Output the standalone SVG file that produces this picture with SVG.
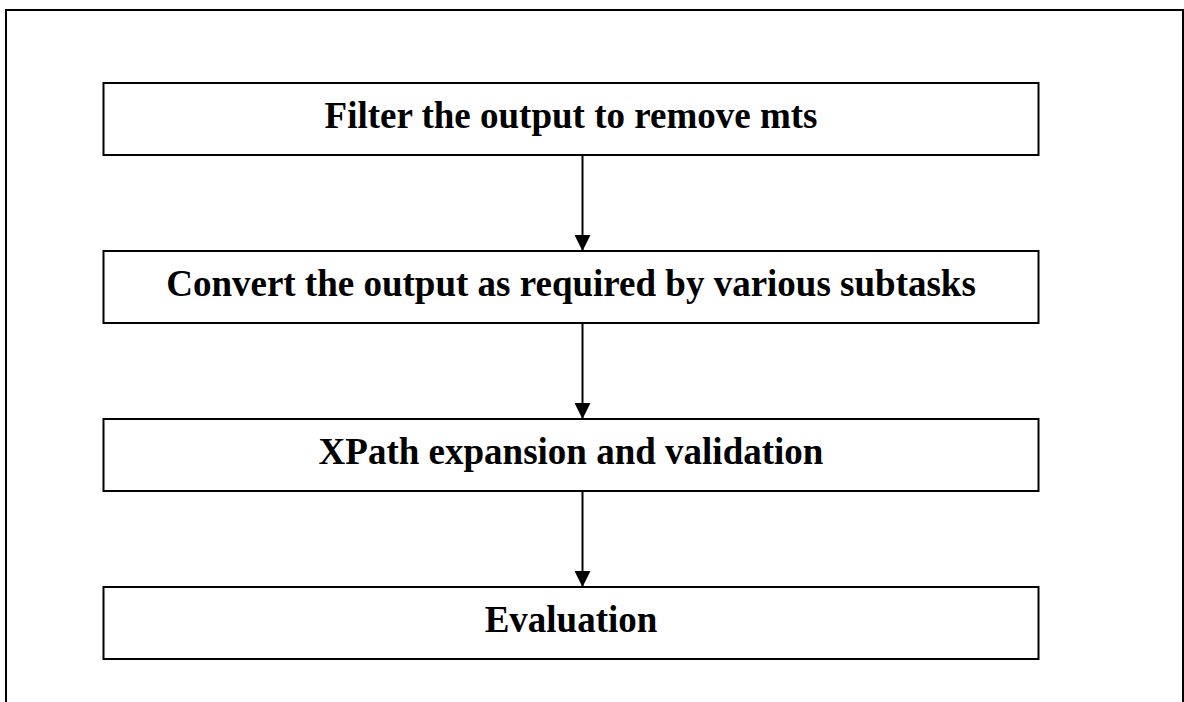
<svg xmlns="http://www.w3.org/2000/svg" width="1184" height="702" viewBox="0 0 1184 702">
  <style>
    .frame { fill: #ffffff; stroke: #000000; stroke-width: 2; }
    .box { fill: #ffffff; stroke: #000000; stroke-width: 2; }
    .label { font-family: "Liberation Serif", "Times New Roman", serif; font-weight: bold; font-size: 37px; fill: #000000; text-anchor: middle; }
    .flow { stroke: #000000; stroke-width: 2; fill: none; }
  </style>
  <defs>
    <marker id="arrowhead" markerUnits="userSpaceOnUse" markerWidth="16" markerHeight="16" refX="16" refY="8" orient="auto">
      <path d="M0,0 L16,8 L0,16 Z" fill="#000000"/>
    </marker>
  </defs>
  <rect width="1184" height="702" fill="#ffffff"/>
  <rect class="frame" x="6" y="10" width="1177" height="700"/>

  <g id="connectors">
    <line class="flow" x1="582.5" y1="155" x2="582.5" y2="251" marker-end="url(#arrowhead)"/>
    <line class="flow" x1="582.5" y1="323" x2="582.5" y2="419" marker-end="url(#arrowhead)"/>
    <line class="flow" x1="582.5" y1="491" x2="582.5" y2="587" marker-end="url(#arrowhead)"/>
  </g>

  <g id="node-filter">
    <rect class="box" x="103.5" y="83" width="935" height="72"/>
    <text class="label" x="571" y="127.5">Filter the output to remove mts</text>
  </g>
  <g id="node-convert">
    <rect class="box" x="103.5" y="251" width="935" height="72"/>
    <text class="label" x="571" y="295.5">Convert the output as required by various subtasks</text>
  </g>
  <g id="node-xpath">
    <rect class="box" x="103.5" y="419" width="935" height="72"/>
    <text class="label" x="571" y="463.5">XPath expansion and validation</text>
  </g>
  <g id="node-evaluation">
    <rect class="box" x="103.5" y="587" width="935" height="72"/>
    <text class="label" x="571" y="631.5">Evaluation</text>
  </g>
</svg>
